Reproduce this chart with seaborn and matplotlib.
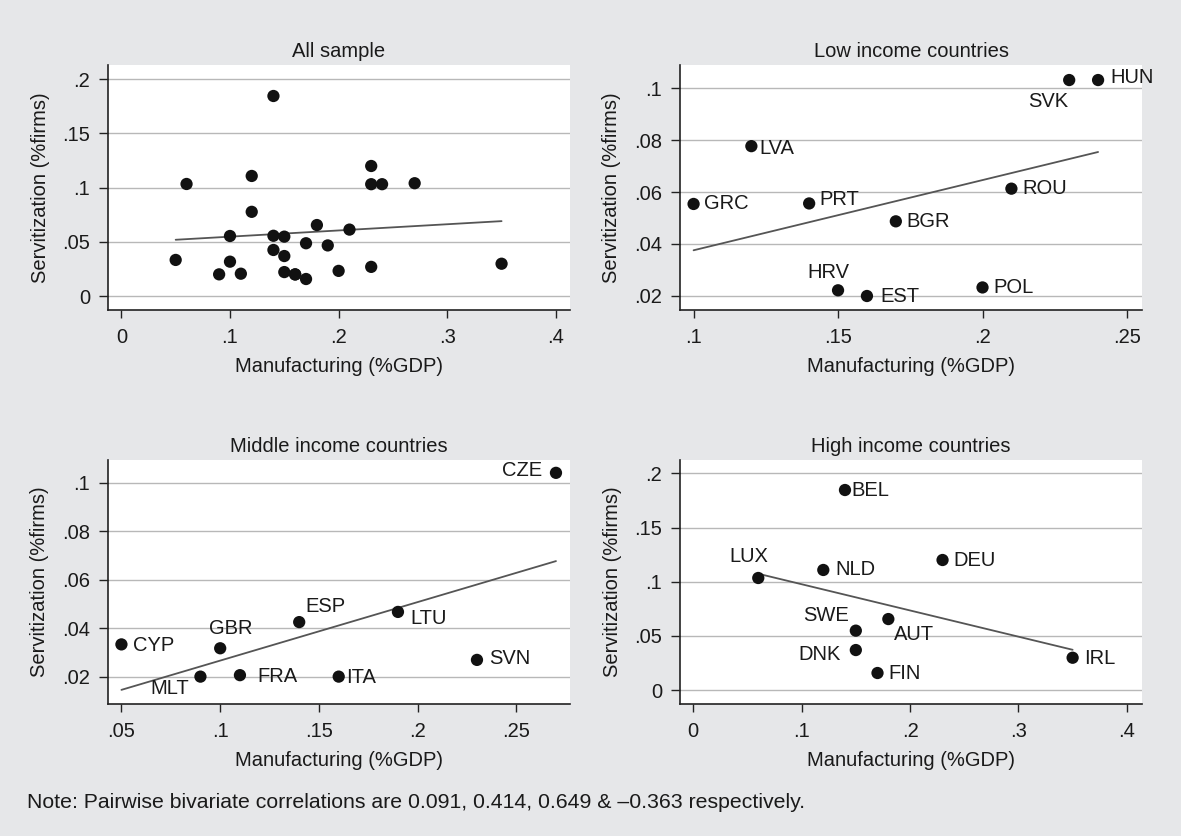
import numpy as np
import pandas as pd
import matplotlib
matplotlib.use("Agg")
import matplotlib.pyplot as plt
import seaborn as sns
from matplotlib.ticker import FuncFormatter

# ---- data ----
low_iso = ["GRC", "LVA", "PRT", "HRV", "EST", "BGR", "POL", "ROU", "SVK", "HUN"]
low_mfg = [0.10, 0.12, 0.14, 0.15, 0.16, 0.17, 0.20, 0.21, 0.23, 0.24]
low_serv = [0.0554, 0.0777, 0.0556, 0.0221, 0.0199, 0.0487, 0.0232, 0.0613, 0.1032, 0.1032]

mid_iso = ["CYP", "MLT", "GBR", "FRA", "ESP", "ITA", "LTU", "SVN", "CZE"]
mid_mfg = [0.05, 0.09, 0.10, 0.11, 0.14, 0.16, 0.19, 0.23, 0.27]
mid_serv = [0.0333, 0.0200, 0.0317, 0.0206, 0.0425, 0.0200, 0.0467, 0.0269, 0.1041]

high_iso = ["LUX", "NLD", "BEL", "SWE", "DNK", "AUT", "FIN", "DEU", "IRL"]
high_mfg = [0.06, 0.12, 0.14, 0.15, 0.15, 0.18, 0.17, 0.23, 0.35]
high_serv = [0.1034, 0.1108, 0.1846, 0.0548, 0.0369, 0.0655, 0.0157, 0.1200, 0.0298]

titles = ["All sample", "Low income countries", "Middle income countries", "High income countries"]
note = "Note: Pairwise bivariate correlations are 0.091, 0.414, 0.649 & \u20130.363 respectively."

low = pd.DataFrame({"iso": low_iso, "mfg": low_mfg, "serv": low_serv})
mid = pd.DataFrame({"iso": mid_iso, "mfg": mid_mfg, "serv": mid_serv})
high = pd.DataFrame({"iso": high_iso, "mfg": high_mfg, "serv": high_serv})
allsample = pd.concat([low, mid, high], ignore_index=True)

# label placement (pixel offsets, horizontal alignment)
lab_pos = {
    "GRC": (10, 0, "left"), "LVA": (8, -2, "left"), "PRT": (10, 4, "left"),
    "HRV": (-10, 18, "center"), "EST": (13, -1, "left"), "BGR": (11, 0, "left"),
    "POL": (11, 0, "left"), "ROU": (11, 0, "left"), "SVK": (-21, -21, "center"),
    "HUN": (12, 3, "left"),
    "CYP": (12, -1, "left"), "MLT": (-11, -12, "right"), "GBR": (11, 20, "center"),
    "FRA": (17, -1, "left"), "ESP": (6, 16, "left"), "ITA": (7, -1, "left"),
    "LTU": (12, -7, "left"), "SVN": (12, 1, "left"), "CZE": (-14, 2, "right"),
    "LUX": (-9, 21, "center"), "NLD": (12, 0, "left"), "BEL": (6, 0, "left"),
    "SWE": (-7, 15, "right"), "DNK": (-15, -4, "right"), "AUT": (6, -15, "left"),
    "FIN": (11, 0, "left"), "DEU": (11, 0, "left"), "IRL": (12, -1, "left"),
}

sns.set_style("white")
plt.rcParams["font.family"] = ["Liberation Sans", "DejaVu Sans"]
FS = 14.5
bg = "#e6e7e9"

fig = plt.figure(figsize=(11.81, 8.36), dpi=100, facecolor=bg)
W, H = 1181, 836

def add_ax(left, top, right, bottom):
    return fig.add_axes([left / W, 1 - bottom / H, (right - left) / W, (bottom - top) / H])

axes = [
    add_ax(108, 65, 570, 310),
    add_ax(680, 65, 1142, 310),
    add_ax(108, 460, 570, 704),
    add_ax(680, 460, 1142, 704),
]

frames = [allsample, low, mid, high]
xlims = [(-0.0123, 0.413), (0.0953, 0.2552), (0.0432, 0.2771), (-0.0122, 0.414)]
ylims = [(-0.0129, 0.2132), (0.0145, 0.109), (0.0087, 0.1094), (-0.0129, 0.2123)]
xticks = [[0, .1, .2, .3, .4], [.1, .15, .2, .25], [.05, .1, .15, .2, .25], [0, .1, .2, .3, .4]]
yticks = [[0, .05, .1, .15, .2], [.02, .04, .06, .08, .1], [.02, .04, .06, .08, .1], [0, .05, .1, .15, .2]]

def stata_fmt(v, pos):
    s = ("%g" % round(v, 4))
    if s.startswith("0."):
        s = s[1:]
    return s

for i, (ax, df) in enumerate(zip(axes, frames)):
    ax.set_facecolor("white")
    ax.set_xlim(*xlims[i])
    ax.set_ylim(*ylims[i])
    ax.set_yticks(yticks[i])
    ax.set_xticks(xticks[i])
    ax.yaxis.set_major_formatter(FuncFormatter(stata_fmt))
    ax.xaxis.set_major_formatter(FuncFormatter(stata_fmt))
    for yv in yticks[i]:
        ax.axhline(yv, color="#b8b8b8", lw=1.0, zorder=0)

    sns.scatterplot(data=df, x="mfg", y="serv", ax=ax, color="#111111",
                    s=78, edgecolor="none", zorder=3, legend=False)
    sns.regplot(data=df, x="mfg", y="serv", ax=ax, scatter=False, ci=None,
                truncate=True, line_kws={"color": "#555555", "lw": 1.3, "zorder": 2})

    if i > 0:
        for _, r in df.iterrows():
            dx, dy, ha = lab_pos[r["iso"]]
            ax.annotate(r["iso"], (r["mfg"], r["serv"]), xytext=(dx, dy),
                        textcoords="offset pixels", ha=ha, va="center",
                        fontsize=FS, color="#1a1a1a", zorder=4)

    for side in ["top", "right"]:
        ax.spines[side].set_visible(False)
    for side in ["left", "bottom"]:
        ax.spines[side].set_color("#222222")
        ax.spines[side].set_linewidth(1.2)
    ax.tick_params(axis="y", direction="out", length=6.5, width=1.0, color="#222222",
                   pad=6.5, labelsize=FS, left=True, labelcolor="#1a1a1a")
    ax.tick_params(axis="x", direction="out", length=6, width=1.0, color="#222222",
                   pad=7, labelsize=FS, bottom=True, labelcolor="#1a1a1a")
    ax.set_xlabel("Manufacturing (%GDP)", fontsize=FS, color="#1a1a1a", labelpad=7)
    ax.set_ylabel("Servitization (%firms)", fontsize=FS, color="#1a1a1a", labelpad=9)
    ax.set_title(titles[i], fontsize=FS, color="#1a1a1a", pad=6)

fig.text(27 / W, 1 - 802 / H, note, fontsize=15.3, color="#1a1a1a", va="center", ha="left")

fig.savefig("out.png", dpi=100, facecolor=bg)
